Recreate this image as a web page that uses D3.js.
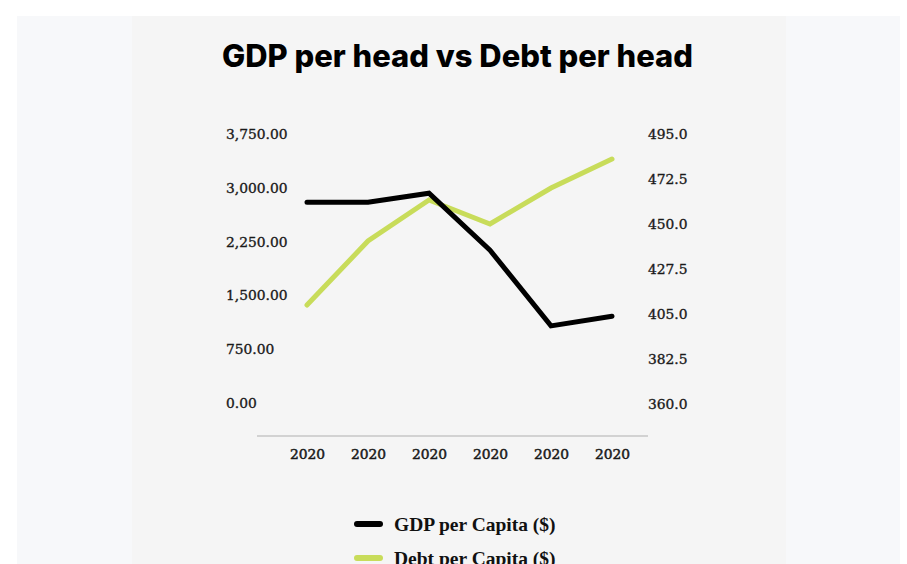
<!DOCTYPE html>
<html>
<head>
<meta charset="utf-8">
<script src="https://cdn.jsdelivr.net/npm/d3@7/dist/d3.min.js"></script>
<style>
  html, body { margin: 0; padding: 0; background: #ffffff; }
  svg { display: block; }
</style>
</head>
<body>
<svg id="chart" width="907" height="564"></svg>
<script>
// ---- data ----
const categories = ["2020", "2020", "2020", "2020", "2020", "2020"];
const gdpPerCapita = [2800, 2800, 2925, 2130, 1075, 1210];
const debtPerCapita = [409.5, 441.5, 462, 450, 468, 482.5];
const leftTicks = [0, 750, 1500, 2250, 3000, 3750];
const rightTicks = [360, 382.5, 405, 427.5, 450, 472.5, 495];
const seriesNames = ["GDP per Capita ($)", "Debt per Capita ($)"];
const titleText = "GDP per head vs Debt per head";

const W = 907, H = 564;
const svg = d3.select("#chart");

// backgrounds
svg.append("rect").attr("x", 17).attr("y", 16).attr("width", 883).attr("height", H - 16).attr("fill", "#f7f8fa");
svg.append("rect").attr("x", 132).attr("y", 16).attr("width", 654).attr("height", H - 16).attr("fill", "#f5f5f5");

// title
svg.append("text")
  .attr("x", 457.5).attr("y", 67)
  .attr("text-anchor", "middle")
  .attr("font-family", "Inter, Lato, sans-serif")
  .attr("font-weight", 800)
  .attr("font-size", 31)
  .attr("textLength", 471)
  .attr("lengthAdjust", "spacingAndGlyphs")
  .attr("fill", "#000")
  .text(titleText);

// scales
const idx = categories.map((d, i) => i);
const x = d3.scalePoint().domain(idx).range([307, 612]);
const yL = d3.scaleLinear().domain([0, 3750]).range([403, 134]);
const yR = d3.scaleLinear().domain([360, 495]).range([404, 134]);

const tickFont = "'DejaVu Serif', serif";
function styleTicks(sel) {
  sel.attr("font-family", tickFont).attr("font-size", 13.8).attr("fill", "#1a1a1a")
     .attr("stroke", "#1a1a1a").attr("stroke-width", 0.35);
}

// left axis (labels left-aligned)
const gL = svg.append("g").attr("transform", "translate(226,0)")
  .call(d3.axisRight(yL).tickValues(leftTicks).tickSize(0).tickPadding(0).tickFormat(d3.format(",.2f")));
gL.select(".domain").remove();
styleTicks(gL.selectAll("text"));

// right axis
const gR = svg.append("g").attr("transform", "translate(648,0)")
  .call(d3.axisRight(yR).tickValues(rightTicks).tickSize(0).tickPadding(0).tickFormat(d3.format(".1f")));
gR.select(".domain").remove();
styleTicks(gR.selectAll("text"));

// x axis line
svg.append("line").attr("x1", 257).attr("x2", 648).attr("y1", 436).attr("y2", 436)
  .attr("stroke", "#d2d2d2").attr("stroke-width", 2);

const gX = svg.append("g").attr("transform", "translate(0,436)")
  .call(d3.axisBottom(x).tickSize(0).tickPadding(0).tickFormat(i => categories[i]));
gX.select(".domain").remove();
gX.selectAll("text").attr("y", 18).attr("dy", "0.35em");
styleTicks(gX.selectAll("text"));
gX.selectAll("text").attr("stroke-width", 0.5);

// lines
const colors = ["#000000", "#c8dc5a"];
const lineL = d3.line().x((d, i) => x(i)).y(d => yL(d));
const lineR = d3.line().x((d, i) => x(i)).y(d => yR(d));

svg.append("path").datum(debtPerCapita).attr("d", lineR)
  .attr("fill", "none").attr("stroke", colors[1]).attr("stroke-width", 5)
  .attr("stroke-linejoin", "miter").attr("stroke-linecap", "round");
svg.append("path").datum(gdpPerCapita).attr("d", lineL)
  .attr("fill", "none").attr("stroke", colors[0]).attr("stroke-width", 5)
  .attr("stroke-linejoin", "miter").attr("stroke-linecap", "round");

// legend
const legend = svg.append("g");
seriesNames.forEach((name, i) => {
  const yy = 524 + i * 34;
  legend.append("line").attr("x1", 357).attr("x2", 380).attr("y1", yy).attr("y2", yy)
    .attr("stroke", colors[i]).attr("stroke-width", 6).attr("stroke-linecap", "round");
  legend.append("text").attr("x", 394).attr("y", yy).attr("dy", "0.35em")
    .attr("font-family", "'Liberation Serif', 'DejaVu Serif', serif")
    .attr("font-weight", 700).attr("font-size", 19.5)
    .attr("fill", "#111")
    .text(name);
});
</script>
</body>
</html>
